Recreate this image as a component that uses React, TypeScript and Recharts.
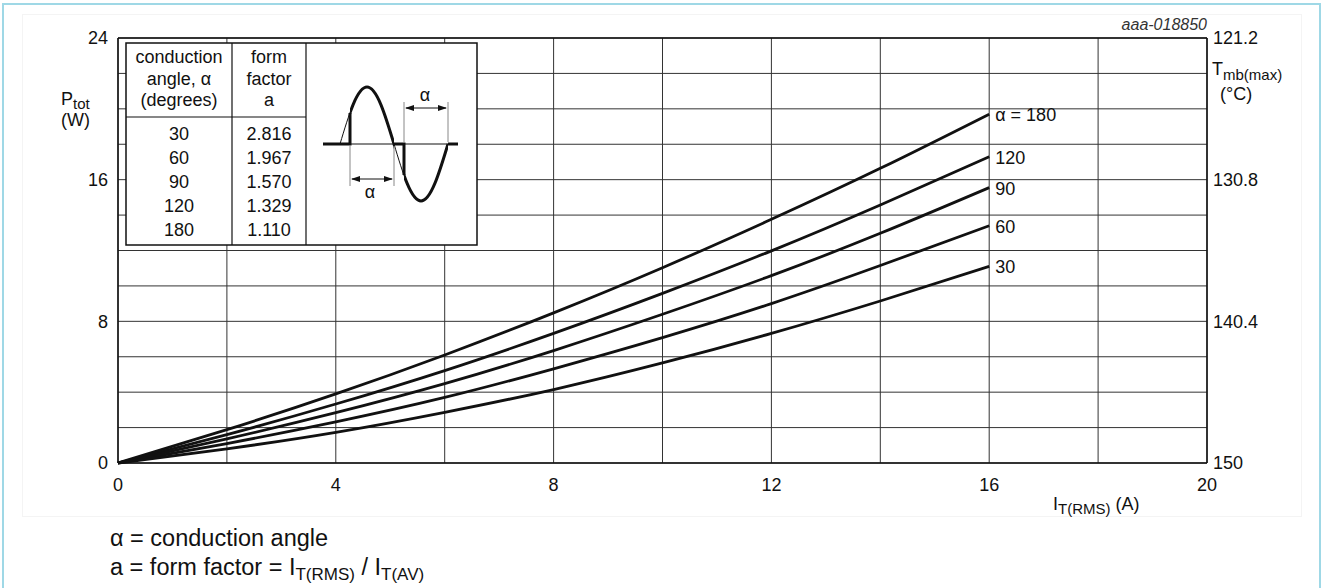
import {
  CartesianGrid,
  LabelList,
  Line,
  LineChart,
  ReferenceLine,
  XAxis,
  YAxis,
} from "recharts";

// on-state current, A (x axis)
const I_RMS = [0, 2, 4, 6, 8, 10, 12, 14, 16];

// total power dissipation (W) per conduction angle
const P_180 = [0, 1.88, 3.9, 6.1, 8.48, 11.03, 13.76, 16.64, 19.7];
const P_120 = [0, 1.6, 3.33, 5.22, 7.32, 9.58, 11.98, 14.57, 17.3];
const P_90 = [0, 1.36, 2.84, 4.48, 6.35, 8.4, 10.58, 12.97, 15.55];
const P_60 = [0, 1.1, 2.32, 3.7, 5.32, 7.08, 9.0, 11.15, 13.4];
const P_30 = [0, 0.8, 1.73, 2.86, 4.15, 5.65, 7.32, 9.15, 11.1];

const CURVE_LABELS = ["α = 180", "120", "90", "60", "30"];

const X_TICKS = [0, 2, 4, 6, 8, 10, 12, 14, 16, 18, 20];
const X_LABELED = [0, 4, 8, 12, 16, 20];
const Y_TICKS = [0, 2, 4, 6, 8, 10, 12, 14, 16, 18, 20, 22, 24];
const Y_LABELED = [0, 8, 16, 24];
const TMB_LABELS = ["150", "140.4", "130.8", "121.2"];

const TABLE_ANGLES = ["30", "60", "90", "120", "180"];
const TABLE_FORM = ["2.816", "1.967", "1.570", "1.329", "1.110"];

const FONT = "'Liberation Sans', Arial, Helvetica, sans-serif";
const INK = "#111";

const SERIES = [
  { key: "a180", values: P_180 },
  { key: "a120", values: P_120 },
  { key: "a90", values: P_90 },
  { key: "a60", values: P_60 },
  { key: "a30", values: P_30 },
];

const data = I_RMS.map((x, i) => {
  const row: Record<string, number | string> = { x };
  SERIES.forEach((s, k) => {
    row[s.key] = s.values[i];
    row[s.key + "_lbl"] = i === I_RMS.length - 1 ? CURVE_LABELS[k] : "";
  });
  return row;
});

const endLabel = (props: any) => {
  const value = props.value;
  if (!value) return null;
  const x = props.x ?? props.viewBox?.x;
  const y = props.y ?? props.viewBox?.y;
  return (
    <text x={x + 6} y={y + 7} fontSize={18} fontFamily={FONT} fill={INK}>
      {value}
    </text>
  );
};

const tickStyle = { fill: INK, fontSize: 18, fontFamily: FONT };

function Overlay() {
  const rows = TABLE_ANGLES.map((a, i) => (
    <g key={a}>
      <text x={179} y={140 + i * 24} textAnchor="middle">{a}</text>
      <text x={269} y={140 + i * 24} textAnchor="middle">{TABLE_FORM[i]}</text>
    </g>
  ));
  const wave =
    "M340,144 C348.8,114.8 357.2,87 367,87 C376.8,87 385.2,114.8 394,144 " +
    "C402.8,173.2 411.2,201 421,201 C430.8,201 439.2,173.2 448,144";
  return (
    <svg
      width={1323}
      height={588}
      style={{ position: "absolute", left: 0, top: 0, pointerEvents: "none" }}
      fontFamily={FONT}
      fill={INK}
      fontSize={18}
    >
      <defs>
        <clipPath id="firing">
          <rect x={350} y={0} width={44} height={300} />
          <rect x={404} y={0} width={44} height={300} />
        </clipPath>
      </defs>

      <text x={1207} y={30} fontSize={16} fontStyle="italic" textAnchor="end" fill="#333">
        aaa-018850
      </text>

      <text x={61} y={105}>
        P<tspan fontSize={15} dy={4}>tot</tspan>
      </text>
      <text x={61} y={126}>(W)</text>

      <text x={1212} y={75}>
        T<tspan fontSize={15} dy={5}>mb(max)</tspan>
      </text>
      <text x={1220} y={100}>(°C)</text>

      <text x={1053} y={510}>
        I<tspan fontSize={15} dy={4}>T(RMS)</tspan>
        <tspan dy={-4}> (A)</tspan>
      </text>

      <text x={110} y={546} fontSize={23.5}>α = conduction angle</text>
      <text x={110} y={575} fontSize={23.5}>
        a = form factor = I<tspan fontSize={17} dy={5}>T(RMS)</tspan>
        <tspan dy={-5}> / I</tspan>
        <tspan fontSize={17} dy={5}>T(AV)</tspan>
      </text>

      {/* inset table */}
      <rect x={126} y={43} width={351} height={202} fill="#fff" stroke={INK} strokeWidth={1.5} />
      <line x1={232} y1={43} x2={232} y2={245} stroke={INK} strokeWidth={1.2} />
      <line x1={306} y1={43} x2={306} y2={245} stroke={INK} strokeWidth={1.2} />
      <line x1={126} y1={117} x2={306} y2={117} stroke={INK} strokeWidth={1.2} />
      <text x={179} y={63} textAnchor="middle">conduction</text>
      <text x={179} y={85} textAnchor="middle">angle, α</text>
      <text x={179} y={106} textAnchor="middle">(degrees)</text>
      <text x={269} y={63} textAnchor="middle">form</text>
      <text x={269} y={85} textAnchor="middle">factor</text>
      <text x={269} y={106} textAnchor="middle">a</text>
      {rows}

      {/* waveform sketch */}
      <g fill="none" stroke={INK}>
        <line x1={350} y1={144} x2={448} y2={144} strokeWidth={1} />
        <path d={wave} strokeWidth={1} />
        <path d={wave} strokeWidth={3} clipPath="url(#firing)" />
        <path d="M323,144 H350 V113" strokeWidth={3} />
        <path d="M394,144 H404 V175" strokeWidth={3} />
        <path d="M448,144 H458" strokeWidth={3} />
      </g>
      <g stroke="#888" strokeWidth={1}>
        <line x1={350} y1={146} x2={350} y2={186} />
        <line x1={394} y1={146} x2={394} y2={186} />
        <line x1={404} y1={142} x2={404} y2={102} />
        <line x1={448} y1={142} x2={448} y2={102} />
      </g>
      <g stroke={INK} strokeWidth={1}>
        <line x1={352} y1={179} x2={392} y2={179} />
        <line x1={406} y1={108} x2={446} y2={108} />
      </g>
      <polygon points="351,179 360,176 360,182" />
      <polygon points="393,179 384,176 384,182" />
      <polygon points="405,108 414,105 414,111" />
      <polygon points="447,108 438,105 438,111" />
      <text x={370} y={198} textAnchor="middle">α</text>
      <text x={425} y={101} textAnchor="middle">α</text>
    </svg>
  );
}

export default function App() {
  return (
    <div
      style={{
        position: "absolute",
        left: 0,
        top: 0,
        width: 1323,
        height: 588,
        overflow: "hidden",
        background: "#fff",
        fontFamily: FONT,
      }}
    >
      <div
        style={{
          position: "absolute",
          left: 2,
          top: 3,
          width: 1319,
          height: 585,
          boxSizing: "border-box",
          border: "2px solid #9fd8e6",
          borderBottom: "none",
        }}
      />
      <div
        style={{
          position: "absolute",
          left: 22,
          top: 14,
          width: 1280,
          height: 503,
          boxSizing: "border-box",
          border: "1px solid #f4f4f4",
        }}
      />
      <LineChart
        width={1323}
        height={588}
        data={data}
        margin={{ top: 38, right: 56, bottom: 95, left: 78 }}
        style={{ position: "absolute", left: 0, top: 0 }}
      >
        <CartesianGrid stroke="#333" strokeWidth={1} />
        <XAxis
          dataKey="x"
          type="number"
          domain={[0, 20]}
          ticks={X_TICKS}
          interval={0}
          height={30}
          tickSize={0}
          tickMargin={15}
          tickLine={false}
          axisLine={{ stroke: INK, strokeWidth: 1.5 }}
          tick={tickStyle}
          tickFormatter={(v: number) => (X_LABELED.includes(v) ? String(v) : "")}
        />
        <YAxis
          type="number"
          domain={[0, 24]}
          ticks={Y_TICKS}
          interval={0}
          width={40}
          tickSize={0}
          tickMargin={10}
          tickLine={false}
          axisLine={{ stroke: INK, strokeWidth: 1.5 }}
          tick={tickStyle}
          tickFormatter={(v: number) => (Y_LABELED.includes(v) ? String(v) : "")}
        />
        <YAxis
          yAxisId="right"
          orientation="right"
          type="number"
          domain={[0, 24]}
          allowDataOverflow
          ticks={Y_TICKS}
          interval={0}
          width={60}
          tickSize={0}
          tickMargin={6}
          tickLine={false}
          axisLine={{ stroke: INK, strokeWidth: 1.5 }}
          tick={{ ...tickStyle, textAnchor: "start" }}
          tickFormatter={(v: number) => {
            const k = Y_LABELED.indexOf(v);
            return k >= 0 ? TMB_LABELS[k] : "";
          }}
        />
        <ReferenceLine y={24} stroke={INK} strokeWidth={1.5} />
        {/* the temperature scale is a relabelling of the power axis */}
        <Line
          yAxisId="right"
          dataKey="a180"
          stroke="none"
          dot={false}
          activeDot={false}
          legendType="none"
          isAnimationActive={false}
        />
        {SERIES.map((s) => (
          <Line
            key={s.key}
            type="natural"
            dataKey={s.key}
            stroke={INK}
            strokeWidth={2.8}
            dot={false}
            isAnimationActive={false}
          >
            <LabelList dataKey={s.key + "_lbl"} content={endLabel} />
          </Line>
        ))}
      </LineChart>
      <Overlay />
    </div>
  );
}
